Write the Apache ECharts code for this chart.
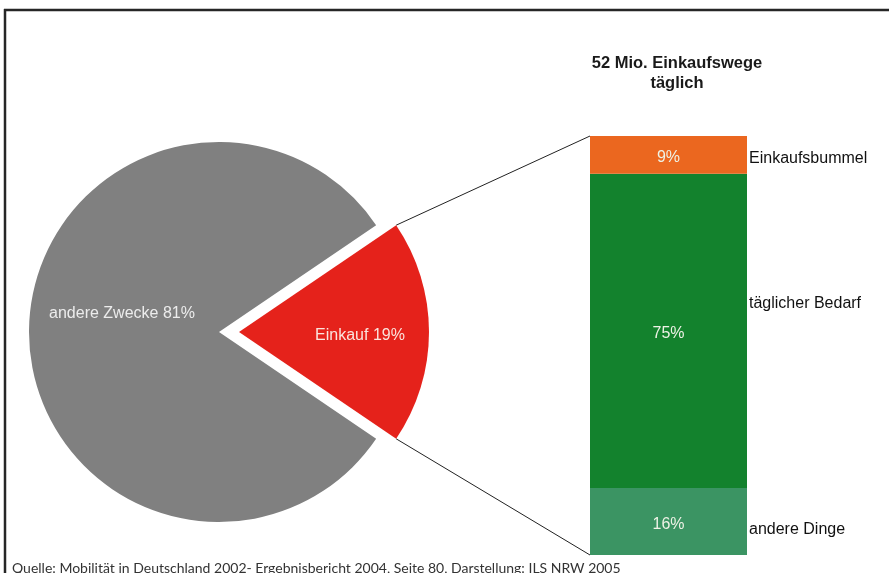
<!DOCTYPE html>
<html>
<head>
<meta charset="utf-8">
<script src="https://cdn.jsdelivr.net/npm/echarts@6/dist/echarts.min.js"></script>
<style>
  html, body { margin: 0; padding: 0; background: #ffffff; }
  #chart { width: 889px; height: 573px; }
</style>
</head>
<body>
<div id="chart"></div>
<script>
// Purpose of all trips: shopping vs. other purposes (percent)
const purposeNames = ['Einkauf', 'andere Zwecke'];
const purposeShares = [19, 81];

// Breakdown of shopping trips, bottom to top (percent)
const shoppingNames = ['andere Dinge', 'täglicher Bedarf', 'Einkaufsbummel'];
const shoppingShares = [16, 75, 9];

const barCategories = ['Einkaufswege'];
const titleText = '52 Mio. Einkaufswege\ntäglich';
const sourceText = 'Quelle: Mobilität in Deutschland 2002- Ergebnisbericht 2004, Seite 80, Darstellung: ILS NRW 2005';

const FONT = '"Liberation Sans", Arial, sans-serif';
const pieCenter = [219, 332];
const pieRadius = 190;
const explode = 20;
const barGrid = { left: 590, top: 136, width: 157, height: 419 };

const purposeColors = ['#e5221b', '#808080'];
const shoppingColors = ['#3b9463', '#13822d', '#eb671f'];
const rightLabelOffsets = [[0, 8], [0, -27], [0, 4]];
const pieLabelOffsets = [[26, 4], [1, -18]];

// half-angle of the shopping slice, which is centred on the 3 o'clock direction
const halfAngle = purposeShares[0] / 100 * 180;

const chart = echarts.init(document.getElementById('chart'), null, { renderer: 'canvas' });

const barSeries = [];
shoppingNames.forEach((name, i) => {
  // coloured segment with its percentage inside
  barSeries.push({
    type: 'bar',
    name: name,
    stack: 'share',
    barWidth: '100%',
    barGap: '-100%',
    silent: true,
    itemStyle: { color: shoppingColors[i] },
    label: {
      show: true,
      position: 'inside',
      offset: [0, 3],
      formatter: '{c}%',
      color: '#eef2e6',
      fontFamily: FONT,
      fontSize: 16
    },
    data: [shoppingShares[i]]
  });
});
shoppingNames.forEach((name, i) => {
  // transparent twin that carries the category name on the right
  barSeries.push({
    type: 'bar',
    name: name + ' ',
    stack: 'names',
    barWidth: '100%',
    barGap: '-100%',
    silent: true,
    itemStyle: { color: 'rgba(0,0,0,0)' },
    label: {
      show: true,
      position: 'right',
      distance: 2,
      offset: rightLabelOffsets[i],
      formatter: name,
      color: '#111111',
      fontFamily: FONT,
      fontSize: 16
    },
    data: [shoppingShares[i]]
  });
});

function pieLabel(i) {
  return {
    show: true,
    position: 'inside',
    formatter: '{b} {c}%',
    color: i === 0 ? '#fbe3dc' : '#ececec',
    fontFamily: FONT,
    fontSize: 16,
    offset: pieLabelOffsets[i]
  };
}

chart.setOption({
  animation: false,
  backgroundColor: '#ffffff',
  title: {
    text: titleText,
    left: 672,
    top: 48,
    textAlign: 'center',
    textStyle: {
      fontFamily: FONT,
      fontSize: 16.5,
      fontWeight: 'bold',
      color: '#1a1a1a',
      lineHeight: 20
    }
  },
  grid: Object.assign({ containLabel: false }, barGrid),
  xAxis: { type: 'category', data: barCategories, show: false },
  yAxis: { type: 'value', min: 0, max: 100, show: false },
  series: [
    {
      type: 'pie',
      center: pieCenter,
      radius: pieRadius,
      startAngle: halfAngle,
      clockwise: true,
      selectedMode: 'single',
      selectedOffset: explode,
      avoidLabelOverlap: false,
      silent: true,
      labelLine: { show: false },
      data: purposeNames.map((name, i) => ({
        name: name,
        value: purposeShares[i],
        selected: i === 0,
        itemStyle: { color: purposeColors[i] },
        label: pieLabel(i),
        select: { label: pieLabel(i), itemStyle: { color: purposeColors[i] } }
      }))
    }
  ].concat(barSeries)
});

// Connector lines from the exploded slice to the stacked bar, plus frame and source note
function drawOverlay() {
  const rad = halfAngle * Math.PI / 180;
  const sliceCx = pieCenter[0] + explode;
  const sliceCy = pieCenter[1];
  const upper = [sliceCx + pieRadius * Math.cos(rad), sliceCy - pieRadius * Math.sin(rad)];
  const lower = [sliceCx + pieRadius * Math.cos(rad), sliceCy + pieRadius * Math.sin(rad)];
  const total = shoppingShares.reduce((a, b) => a + b, 0);
  const barTopY = chart.convertToPixel({ yAxisIndex: 0 }, total);
  const barBottomY = chart.convertToPixel({ yAxisIndex: 0 }, 0);
  const barLeftX = barGrid.left;

  chart.setOption({
    graphic: [
      {
        type: 'line', silent: true,
        shape: { x1: upper[0], y1: upper[1], x2: barLeftX, y2: barTopY },
        style: { stroke: '#222222', lineWidth: 1 }
      },
      {
        type: 'line', silent: true,
        shape: { x1: lower[0], y1: lower[1], x2: barLeftX, y2: barBottomY },
        style: { stroke: '#222222', lineWidth: 1 }
      },
      {
        type: 'line', silent: true,
        shape: { x1: 4, y1: 10, x2: 889, y2: 10 },
        style: { stroke: '#262626', lineWidth: 2.5 }
      },
      {
        type: 'line', silent: true,
        shape: { x1: 5, y1: 9, x2: 5, y2: 573 },
        style: { stroke: '#262626', lineWidth: 2.5 }
      },
      {
        type: 'text', silent: true,
        x: 12, y: 561,
        style: {
          text: sourceText,
          fill: '#333333',
          font: '14px Lato, "Open Sans", sans-serif',
          textVerticalAlign: 'top'
        }
      }
    ]
  });
}
drawOverlay();
</script>
</body>
</html>
